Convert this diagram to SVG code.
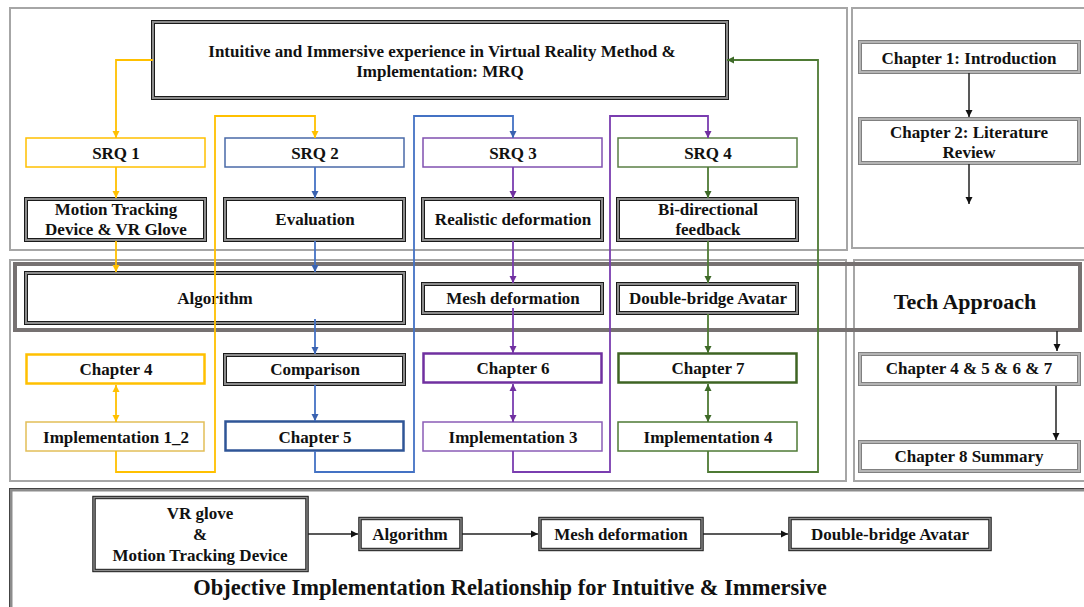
<svg xmlns="http://www.w3.org/2000/svg" width="1084" height="607" viewBox="0 0 1084 607">
<style>
.panel{fill:none;stroke:#a6a6a6;stroke-width:2}
.t{font-family:"Liberation Serif","Times New Roman",serif;font-weight:bold;font-size:17px;fill:#111;text-anchor:middle}
.band{fill:#fff;stroke:#8c8c8c;stroke-width:3.5}
.ln{fill:none;stroke:#1a1a1a;stroke-width:1}
.gband{fill:#fff;stroke:#b4b4b4;stroke-width:3.5}
.gln{fill:none;stroke:#808080;stroke-width:1}
.c{fill:none;stroke-width:1.8}
.y{stroke:#FFC000}.b{stroke:#4472C4}.p{stroke:#7A3DB0}.g{stroke:#4E7A34}.k{stroke:#222;stroke-width:1.5}
</style>
<defs>
<marker id="ay" markerWidth="8" markerHeight="8" refX="7" refY="4" orient="auto-start-reverse" markerUnits="userSpaceOnUse"><path d="M0,0.5 L7,4 L0,7.5 z" fill="#FFC000"/></marker>
<marker id="ab" markerWidth="8" markerHeight="8" refX="7" refY="4" orient="auto-start-reverse" markerUnits="userSpaceOnUse"><path d="M0,0.5 L7,4 L0,7.5 z" fill="#3A62B0"/></marker>
<marker id="ap" markerWidth="8" markerHeight="8" refX="7" refY="4" orient="auto-start-reverse" markerUnits="userSpaceOnUse"><path d="M0,0.5 L7,4 L0,7.5 z" fill="#7030A0"/></marker>
<marker id="ag" markerWidth="8" markerHeight="8" refX="7" refY="4" orient="auto-start-reverse" markerUnits="userSpaceOnUse"><path d="M0,0.5 L7,4 L0,7.5 z" fill="#3E6A28"/></marker>
<marker id="ak" markerWidth="8" markerHeight="8" refX="7" refY="4" orient="auto-start-reverse" markerUnits="userSpaceOnUse"><path d="M0,0.5 L7,4 L0,7.5 z" fill="#111"/></marker>
</defs>
<rect width="1084" height="607" fill="#fff"/>
<g id="panels">
<rect class="panel" x="10" y="8" width="837" height="242"/>
<rect class="panel" x="852" y="8" width="240" height="240"/>
<rect class="panel" x="10" y="260" width="836" height="221"/>
<rect class="panel" x="854" y="260" width="240" height="221"/>
<rect x="11" y="490" width="1090" height="130" fill="none" stroke="#8c8c8c" stroke-width="3"/>
<rect x="9.5" y="488.5" width="1090" height="130" fill="none" stroke="#444" stroke-width="1"/>
</g>
<g id="tech">
<rect x="15" y="264" width="1065" height="66" fill="none" stroke="#767171" stroke-width="4"/>
<text class="t" x="965" y="309" style="font-size:22px">Tech Approach</text>
</g>
<g id="mrq">
<rect class="band" x="153" y="22" width="574" height="76"/>
<rect class="ln" x="151.5" y="20.5" width="577" height="79"/>
<rect class="ln" x="154.5" y="23.5" width="571" height="73"/>
<text class="t" x="442" y="57">Intuitive and Immersive experience in Virtual Reality Method &amp;</text>
<text class="t" x="440" y="77">Implementation: MRQ</text>
</g>
<g id="srq1"><rect x="26" y="138" width="179" height="29" fill="#fff" stroke="#FFC000" stroke-width="1.5"/><text class="t" x="116" y="159">SRQ 1</text></g>
<g id="srq2"><rect x="225" y="138" width="179" height="29" fill="#fff" stroke="#4A6AA8" stroke-width="1.5"/><text class="t" x="315" y="159">SRQ 2</text></g>
<g id="srq3"><rect x="423" y="138" width="179" height="29" fill="#fff" stroke="#8050B0" stroke-width="1.5"/><text class="t" x="513" y="159">SRQ 3</text></g>
<g id="srq4"><rect x="618" y="138" width="179" height="29" fill="#fff" stroke="#5A7F45" stroke-width="1.5"/><text class="t" x="708" y="159">SRQ 4</text></g>
<g id="motion"><rect class="band" x="26" y="199" width="179" height="41"/><rect class="ln" x="24.5" y="197.5" width="182" height="44"/><rect class="ln" x="27.5" y="200.5" width="176" height="38"/><text class="t" x="116" y="215">Motion Tracking</text><text class="t" x="116" y="235">Device &amp; VR Glove</text></g>
<g id="evaluation"><rect class="band" x="225" y="199" width="179" height="41"/><rect class="ln" x="223.5" y="197.5" width="182" height="44"/><rect class="ln" x="226.5" y="200.5" width="176" height="38"/><text class="t" x="315" y="225">Evaluation</text></g>
<g id="realistic"><rect class="band" x="423" y="199" width="179" height="41"/><rect class="ln" x="421.5" y="197.5" width="182" height="44"/><rect class="ln" x="424.5" y="200.5" width="176" height="38"/><text class="t" x="513" y="225">Realistic deformation</text></g>
<g id="bidir"><rect class="band" x="618" y="199" width="179" height="41"/><rect class="ln" x="616.5" y="197.5" width="182" height="44"/><rect class="ln" x="619.5" y="200.5" width="176" height="38"/><text class="t" x="708" y="215">Bi-directional</text><text class="t" x="708" y="235">feedback</text></g>
<g id="algorithm"><rect class="band" x="26" y="273" width="378" height="50"/><rect class="ln" x="24.5" y="271.5" width="381" height="53"/><rect class="ln" x="27.5" y="274.5" width="375" height="47"/><text class="t" x="215" y="304">Algorithm</text></g>
<g id="mesh"><rect class="band" x="423" y="284" width="179" height="29"/><rect class="ln" x="421.5" y="282.5" width="182" height="32"/><rect class="ln" x="424.5" y="285.5" width="176" height="26"/><text class="t" x="513" y="304">Mesh deformation</text></g>
<g id="doublebridge"><rect class="band" x="618" y="284" width="179" height="29"/><rect class="ln" x="616.5" y="282.5" width="182" height="32"/><rect class="ln" x="619.5" y="285.5" width="176" height="26"/><text class="t" x="708" y="304">Double-bridge Avatar</text></g>
<g id="ch4"><rect x="26.5" y="354.5" width="178" height="29" fill="#fff" stroke="#FFC000" stroke-width="2.5"/><text class="t" x="116" y="375">Chapter 4</text></g>
<g id="comparison"><rect class="band" x="225" y="355" width="179" height="29"/><rect class="ln" x="223.5" y="353.5" width="182" height="32"/><rect class="ln" x="226.5" y="356.5" width="176" height="26"/><text class="t" x="315" y="375">Comparison</text></g>
<g id="ch6"><rect x="423.5" y="353.5" width="178" height="29" fill="#fff" stroke="#7030A0" stroke-width="2.5"/><text class="t" x="513" y="374">Chapter 6</text></g>
<g id="ch7"><rect x="618.5" y="353.5" width="178" height="29" fill="#fff" stroke="#3E6423" stroke-width="2.5"/><text class="t" x="708" y="374">Chapter 7</text></g>
<g id="impl12"><rect x="26" y="422" width="178" height="29" fill="#fff" stroke="#E2BE58" stroke-width="1.5"/><text class="t" x="116" y="443">Implementation 1_2</text></g>
<g id="ch5"><rect x="225.5" y="421.5" width="178" height="29" fill="#fff" stroke="#2F5597" stroke-width="2.5"/><text class="t" x="315" y="443">Chapter 5</text></g>
<g id="impl3"><rect x="423" y="422" width="179" height="29" fill="#fff" stroke="#8A5CB6" stroke-width="1.5"/><text class="t" x="513" y="443">Implementation 3</text></g>
<g id="impl4"><rect x="618" y="422" width="179" height="29" fill="#fff" stroke="#4E7A34" stroke-width="1.5"/><text class="t" x="708" y="443">Implementation 4</text></g>
<g id="chap1"><rect class="gband" x="860" y="42" width="219" height="30"/><rect class="gln" x="858.5" y="40.5" width="222" height="33"/><rect class="gln" x="861.5" y="43.5" width="216" height="27"/><text class="t" x="969" y="64">Chapter 1: Introduction</text></g>
<g id="chap2"><rect class="gband" x="860" y="119" width="219" height="44"/><rect class="gln" x="858.5" y="117.5" width="222" height="47"/><rect class="gln" x="861.5" y="120.5" width="216" height="41"/><text class="t" x="969" y="138">Chapter 2: Literature</text><text class="t" x="969" y="158">Review</text></g>
<g id="chap4567"><rect class="gband" x="860" y="354" width="219" height="30"/><rect class="gln" x="858.5" y="352.5" width="222" height="33"/><rect class="gln" x="861.5" y="355.5" width="216" height="27"/><text class="t" x="969" y="374">Chapter 4 &amp; 5 &amp; 6 &amp; 7</text></g>
<g id="chap8"><rect class="gband" x="860" y="442" width="219" height="29"/><rect class="gln" x="858.5" y="440.5" width="222" height="32"/><rect class="gln" x="861.5" y="443.5" width="216" height="26"/><text class="t" x="969" y="462">Chapter 8 Summary</text></g>
<g id="b-vr"><rect class="band" x="94" y="497.5" width="213" height="73" style="stroke-width:2.5"/><rect class="ln" x="92.8" y="496.3" width="215.4" height="75.4"/><rect class="ln" x="95.2" y="498.7" width="210.6" height="70.6"/><text class="t" x="200" y="519">VR glove</text><text class="t" x="200" y="540">&amp;</text><text class="t" x="200" y="561">Motion Tracking Device</text></g>
<g id="b-alg"><rect class="band" x="360" y="518.5" width="101" height="31" style="stroke-width:2.5"/><rect class="ln" x="358.8" y="517.3" width="103.4" height="33.4"/><rect class="ln" x="361.2" y="519.7" width="98.6" height="28.6"/><text class="t" x="410" y="540">Algorithm</text></g>
<g id="b-mesh"><rect class="band" x="540" y="518.5" width="162" height="31" style="stroke-width:2.5"/><rect class="ln" x="538.8" y="517.3" width="164.4" height="33.4"/><rect class="ln" x="541.2" y="519.7" width="159.6" height="28.6"/><text class="t" x="621" y="540">Mesh deformation</text></g>
<g id="b-db"><rect class="band" x="790" y="518.5" width="200" height="31" style="stroke-width:2.5"/><rect class="ln" x="788.8" y="517.3" width="202.4" height="33.4"/><rect class="ln" x="791.2" y="519.7" width="197.6" height="28.6"/><text class="t" x="890" y="540">Double-bridge Avatar</text></g>
<g id="title"><text class="t" x="510" y="595" style="font-size:22.5px">Objective Implementation Relationship for Intuitive &amp; Immersive</text></g>
<g id="connectors">
<path class="c y" d="M153,60 H116 V138" marker-end="url(#ay)"/>
<path class="c y" d="M116,167 V198" marker-end="url(#ay)"/>
<path class="c y" d="M116,241 V272" marker-end="url(#ay)"/>
<path class="c y" d="M116,385 V422" marker-start="url(#ay)" marker-end="url(#ay)"/>
<path class="c y" d="M116,451 V472 H215 V116 H315 V138" marker-end="url(#ay)"/>
<path class="c b" d="M315,167 V198" marker-end="url(#ab)"/>
<path class="c b" d="M315,241 V272" marker-end="url(#ab)"/>
<path class="c b" d="M315,319 V354" marker-end="url(#ab)"/>
<path class="c b" d="M315,385 V421" marker-end="url(#ab)"/>
<path class="c b" d="M315,451 V472 H414 V116 H513 V138" marker-end="url(#ab)"/>
<path class="c p" d="M513,167 V198" marker-end="url(#ap)"/>
<path class="c p" d="M513,241 V283" marker-end="url(#ap)"/>
<path class="c p" d="M513,308 V353" marker-end="url(#ap)"/>
<path class="c p" d="M513,384 V422" marker-start="url(#ap)" marker-end="url(#ap)"/>
<path class="c p" d="M513,451 V472 H610 V116 H708 V138" marker-end="url(#ap)"/>
<path class="c g" d="M708,167 V198" marker-end="url(#ag)"/>
<path class="c g" d="M708,241 V283" marker-end="url(#ag)"/>
<path class="c g" d="M708,314 V353" marker-end="url(#ag)"/>
<path class="c g" d="M708,384 V422" marker-start="url(#ag)" marker-end="url(#ag)"/>
<path class="c g" d="M708,451 V472 H818 V60 H727" marker-end="url(#ag)"/>
<path class="c k" d="M969,73 V117" marker-end="url(#ak)"/>
<path class="c k" d="M969,164 V204" marker-end="url(#ak)"/>
<path class="c k" d="M1057,331 V351" marker-end="url(#ak)"/>
<path class="c k" d="M1056,386 V440" marker-end="url(#ak)"/>
<path class="c k" d="M308,534 H358" marker-end="url(#ak)"/>
<path class="c k" d="M462,534 H538" marker-end="url(#ak)"/>
<path class="c k" d="M703,534 H788" marker-end="url(#ak)"/>
</g>
</svg>
